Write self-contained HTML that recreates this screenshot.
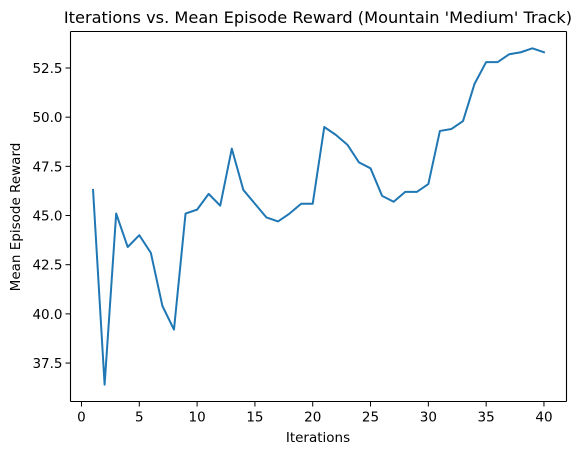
<!DOCTYPE html>
<html><head><style>
body{margin:0;background:#fff;}
svg text{font-family:"DejaVu Sans","Liberation Sans",sans-serif;fill:#000;}
</style></head><body>
<svg id="chart" width="588" height="455">
<text x="318" y="23" font-size="16.2" text-anchor="middle">Iterations vs. Mean Episode Reward (Mountain 'Medium' Track)</text>
<text x="318" y="442" font-size="13.5" text-anchor="middle">Iterations</text>
<text transform="translate(20,217) rotate(-90)" font-size="13.5" text-anchor="middle">Mean Episode Reward</text>
<g id="ticks"></g>
<path id="line" fill="none" stroke="#1f77b4" stroke-width="2" stroke-linejoin="round" stroke-linecap="square"></path>
<g stroke="#000" stroke-width="1.1">
<line x1="70.5" y1="31.5" x2="566.5" y2="31.5"/>
<line x1="70.5" y1="401.5" x2="566.5" y2="401.5"/>
<line x1="70.5" y1="31.5" x2="70.5" y2="401.5"/>
<line x1="566.5" y1="31.5" x2="566.5" y2="401.5"/>
</g>
</svg>
<script>
const iterations=[1,2,3,4,5,6,7,8,9,10,11,12,13,14,15,16,17,18,19,20,21,22,23,24,25,26,27,28,29,30,31,32,33,34,35,36,37,38,39,40];
const rewards=[46.3,36.4,45.1,43.4,44.0,43.1,40.4,39.2,45.1,45.3,46.1,45.5,48.4,46.3,45.6,44.9,44.7,45.1,45.6,45.6,49.5,49.1,48.6,47.7,47.4,46.0,45.7,46.2,46.2,46.6,49.3,49.4,49.8,51.7,52.8,52.8,53.2,53.3,53.5,53.3];
const xTicks=[0,5,10,15,20,25,30,35,40];
const yTicks=[37.5,40.0,42.5,45.0,47.5,50.0,52.5];
const L=70.5,R=566.5,T=31.5,B=401.5;
const xmin=Math.min(...iterations),xmax=Math.max(...iterations),xm=(xmax-xmin)*0.05;
const ymin=Math.min(...rewards),ymax=Math.max(...rewards),ym=(ymax-ymin)*0.05;
const sx=v=>L+(v-(xmin-xm))/((xmax+xm)-(xmin-xm))*(R-L);
const sy=v=>B-(v-(ymin-ym))/((ymax+ym)-(ymin-ym))*(B-T);
const NS="http://www.w3.org/2000/svg";
const g=document.getElementById('ticks');
function mk(t,a){const e=document.createElementNS(NS,t);for(const k in a)e.setAttribute(k,a[k]);g.appendChild(e);return e;}
xTicks.forEach(v=>{const x=sx(v);
const l=mk('line',{x1:x,x2:x,y1:B,y2:B+5,stroke:'#000'});


const t=mk('text',{x:x,y:B+20,'font-size':13.5,'text-anchor':'middle'});t.textContent=v;

});
yTicks.forEach(v=>{const y=sy(v);
const l=mk('line',{x1:L-5,x2:L,y1:y,y2:y,stroke:'#000'});


const t=mk('text',{x:L-8,y:y+5,'font-size':13.5,'text-anchor':'end'});t.textContent=v.toFixed(1);

});
document.getElementById('line').setAttribute('d',iterations.map((v,i)=>(i?'L':'M')+sx(v).toFixed(2)+','+sy(rewards[i]).toFixed(2)).join(''));
</script>
</body></html>
